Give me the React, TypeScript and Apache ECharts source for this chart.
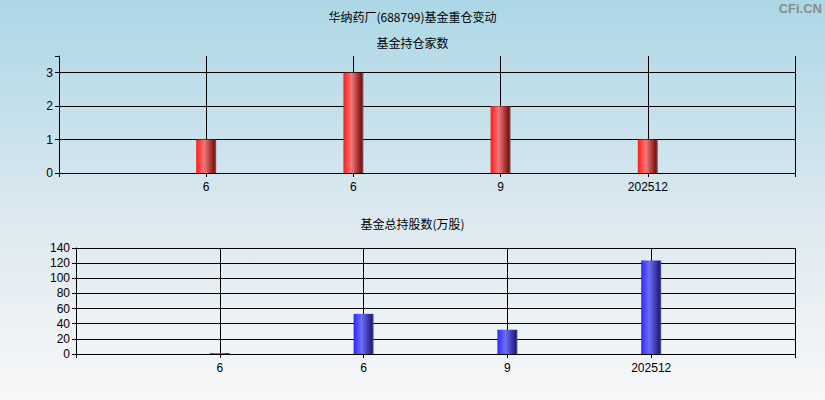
import React, { useEffect, useRef } from "react";
import * as echarts from "echarts";

const categories = ["6", "6", "9", "202512"];
const fundCounts = [1, 3, 2, 1];
const totalShares = [1.2, 53, 32, 123.5];
const topYTicks = [0, 1, 2, 3];
const bottomYTicks = [0, 20, 40, 60, 80, 100, 120, 140];

const mainTitle = "华纳药厂(688799)基金重仓变动";
const subTitle1 = "基金持仓家数";
const subTitle2 = "基金总持股数(万股)";

export default function App() {
  const ref = useRef<HTMLDivElement>(null);
  useEffect(() => {
    document.body.style.margin = "0";
    const chart = echarts.init(ref.current!, undefined, { renderer: "svg" });
    const axisCats = ["", ...categories, ""];
    const font = "Liberation Sans, Arial, sans-serif";
    const cjk = "'Noto Sans CJK SC', sans-serif";
    const redGrad = new echarts.graphic.LinearGradient(0, 0, 1, 0, [
      { offset: 0, color: "#ff1a1a" },
      { offset: 0.4, color: "#f27878" },
      { offset: 0.9, color: "#801212" },
      { offset: 1, color: "#6a6a6a" },
    ]);
    const blueGrad = new echarts.graphic.LinearGradient(0, 0, 1, 0, [
      { offset: 0, color: "#2a2aff" },
      { offset: 0.4, color: "#6e6ef5" },
      { offset: 0.9, color: "#1e1e86" },
      { offset: 1, color: "#5a5a6a" },
    ]);
    const xAxisBase = (gridIndex: number) => ({
      type: "category",
      gridIndex,
      data: axisCats,
      boundaryGap: false,
      axisLine: { show: true, lineStyle: { color: "#000", width: 1 } },
      axisTick: { show: true, length: 4, interval: 0, lineStyle: { color: "#000" } },
      axisLabel: { interval: 0, color: "#000", fontSize: 12, fontFamily: font, margin: 8 },
      splitLine: { show: true, interval: 0, lineStyle: { color: "#000", width: 1 } },
    });
    chart.setOption({
      animation: false,
      backgroundColor: {
        type: "linear",
        x: 0,
        y: 0,
        x2: 0,
        y2: 1,
        colorStops: [
          { offset: 0, color: "#acd7e6" },
          { offset: 0.55, color: "#dde9f0" },
          { offset: 1, color: "#f8f8f8" },
        ],
      },
      title: [
        { text: mainTitle, left: "center", top: 10, padding: 0, textStyle: { fontSize: 12, fontWeight: "normal", color: "#000", fontFamily: cjk } },
        { text: subTitle1, left: "center", top: 36, padding: 0, textStyle: { fontSize: 12, fontWeight: "normal", color: "#000", fontFamily: cjk } },
        { text: subTitle2, left: "center", top: 217, padding: 0, textStyle: { fontSize: 12, fontWeight: "normal", color: "#000", fontFamily: cjk } },
      ],
      graphic: [
        {
          type: "text",
          right: 3,
          top: 2,
          style: { text: "CFi.CN", fill: "#8c8c8c", font: "bold 13px 'Liberation Sans', Arial, sans-serif" },
        },
      ],
      grid: [
        { left: 59, right: 30, top: 56, height: 117 },
        { left: 76, right: 30, top: 248, height: 106 },
      ],
      xAxis: [xAxisBase(0), xAxisBase(1)],
      yAxis: [
        {
          type: "value",
          gridIndex: 0,
          min: 0,
          max: 3.5,
          interval: 1,
          axisLine: { show: true, lineStyle: { color: "#000" } },
          axisTick: { show: true, length: 4, lineStyle: { color: "#000" } },
          axisLabel: {
            color: "#000",
            fontSize: 12,
            fontFamily: font,
            margin: 6,
            formatter: (v: number) => (topYTicks.includes(v) ? String(v) : ""),
          },
          splitLine: { show: true, lineStyle: { color: ["#000", "#000", "#000", "#000", "rgba(0,0,0,0)"], width: 1 } },
        },
        {
          type: "value",
          gridIndex: 1,
          min: 0,
          max: 140,
          interval: 20,
          axisLine: { show: true, lineStyle: { color: "#000" } },
          axisTick: { show: true, length: 4, lineStyle: { color: "#000" } },
          axisLabel: {
            color: "#000",
            fontSize: 12,
            fontFamily: font,
            margin: 6,
            formatter: (v: number) => (bottomYTicks.includes(v) ? String(v) : ""),
          },
          splitLine: { show: true, lineStyle: { color: "#000", width: 1 } },
        },
      ],
      series: [
        {
          type: "bar",
          xAxisIndex: 0,
          yAxisIndex: 0,
          barWidth: 20,
          data: ["-", ...fundCounts, "-"],
          itemStyle: { color: redGrad },
        },
        {
          type: "bar",
          xAxisIndex: 1,
          yAxisIndex: 1,
          barWidth: 20,
          data: ["-", ...totalShares, "-"],
          itemStyle: { color: blueGrad },
        },
      ],
    });
    return () => chart.dispose();
  }, []);
  return <div ref={ref} style={{ width: 825, height: 400 }} />;
}
